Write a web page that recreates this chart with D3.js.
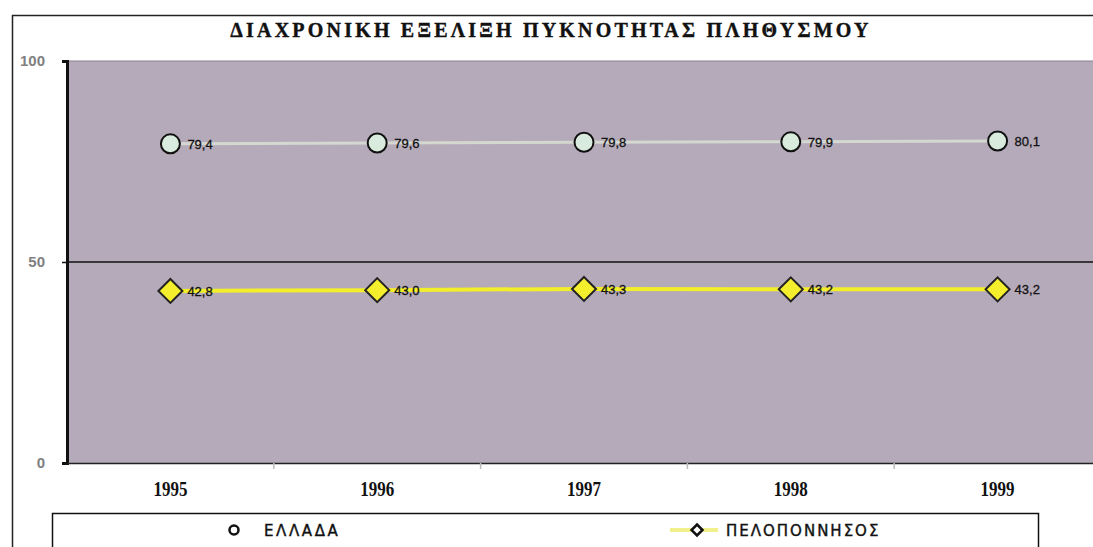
<!DOCTYPE html>
<html><head><meta charset="utf-8">
<script src="https://cdn.jsdelivr.net/npm/d3@7/dist/d3.min.js"></script>
<style>body{margin:0;background:#fff}svg{display:block}</style>
</head><body><svg id="c" width="1093" height="547"></svg>
<script>
const title = "ΔΙΑΧΡΟΝΙΚΗ ΕΞΕΛΙΞΗ ΠΥΚΝΟΤΗΤΑΣ ΠΛΗΘΥΣΜΟΥ";
const years = ["1995","1996","1997","1998","1999"];
const greece = [79.4, 79.6, 79.8, 79.9, 80.1];
const peloponnese = [42.8, 43.0, 43.3, 43.2, 43.2];
const yTicks = [0, 50, 100];
const seriesNames = ["ΕΛΛΑΔΑ", "ΠΕΛΟΠΟΝΝΗΣΟΣ"];

const svg = d3.select("#c");
const W = 1093, H = 547;
const plot = {l: 67, t: 61, r: 1101, b: 463};

// outer frame
svg.append("line").attr("x1",12).attr("x2",W).attr("y1",15.5).attr("y2",15.5).attr("stroke","#222").attr("stroke-width",1.5);
svg.append("line").attr("x1",12.5).attr("x2",12.5).attr("y1",15).attr("y2",H).attr("stroke","#222").attr("stroke-width",1.5);

// title
svg.append("text").attr("x",551).attr("y",37).attr("text-anchor","middle")
  .attr("font-family","Liberation Serif").attr("font-weight","bold").attr("font-size",20)
  .attr("letter-spacing",3.2).attr("fill","#111").attr("stroke","#111").attr("stroke-width",0.4).text(title);

const x = d3.scaleBand().domain(years).range([plot.l, plot.r]);
const y = d3.scaleLinear().domain([0,100]).range([plot.b, plot.t]);

// plot background
svg.append("rect").attr("x",plot.l).attr("y",plot.t).attr("width",W-plot.l).attr("height",plot.b-plot.t).attr("fill","#b5aab9");

// gridlines
svg.append("line").attr("x1",plot.l).attr("x2",W).attr("y1",y(100)).attr("y2",y(100)).attr("stroke","#8a8290").attr("stroke-width",1);
svg.append("line").attr("x1",plot.l).attr("x2",W).attr("y1",y(50)).attr("y2",y(50)).attr("stroke","#111").attr("stroke-width",1.5);

// y axis
const yAxis = svg.append("g").attr("transform",`translate(${plot.l},0)`)
  .call(d3.axisLeft(y).tickValues(yTicks).tickSize(5).tickFormat(d3.format("d")));
yAxis.select(".domain").attr("stroke","#111").attr("stroke-width",3);
yAxis.selectAll(".tick line").attr("stroke","#111").attr("stroke-width",1.5);
yAxis.selectAll(".tick text").attr("font-family","Liberation Sans").attr("font-weight","bold")
  .attr("font-size",15).attr("fill","#808080").attr("x",-22);

// x axis
const xAxis = svg.append("g").attr("transform",`translate(0,${plot.b})`)
  .call(d3.axisBottom(x).tickSize(0).tickPadding(19));
xAxis.select(".domain").attr("stroke","#222").attr("stroke-width",1.5);
xAxis.selectAll(".tick text").attr("font-family","Liberation Serif").attr("font-weight","bold")
  .attr("font-size",20).attr("fill","#111").attr("transform","scale(0.85,1)");
// band separator ticks
svg.append("g").selectAll("line").data(years.slice(1)).join("line")
  .attr("x1",d=>x(d)).attr("x2",d=>x(d)).attr("y1",plot.b).attr("y2",plot.b+6)
  .attr("stroke","#bbb").attr("stroke-width",1.5);

const cx = d => x(d) + x.bandwidth()/2;
const line = d3.line().x((d,i)=>cx(years[i])).y(d=>y(d));
const fmt = d => d3.format(".1f")(d).replace(".",",");

// Greece
svg.append("path").datum(greece).attr("d",line).attr("fill","none").attr("stroke","#d4d8d0").attr("stroke-width",3);
svg.append("g").selectAll("circle").data(greece).join("circle")
  .attr("cx",(d,i)=>cx(years[i])).attr("cy",d=>y(d)).attr("r",9.5)
  .attr("fill","#d9ebdc").attr("stroke","#111").attr("stroke-width",2);
svg.append("g").selectAll("text").data(greece).join("text")
  .attr("x",(d,i)=>cx(years[i])+17).attr("y",d=>y(d)+5)
  .attr("font-family","Liberation Sans").attr("font-size",13).attr("fill","#111")
  .attr("stroke","#111").attr("stroke-width",0.3)
  .text(fmt);

// Peloponnese
svg.append("path").datum(peloponnese).attr("d",line).attr("fill","none").attr("stroke","#f2ee2a").attr("stroke-width",4);
const diamond = s => `M0,${-s}L${s},0L0,${s}L${-s},0Z`;
svg.append("g").selectAll("path").data(peloponnese).join("path")
  .attr("transform",(d,i)=>`translate(${cx(years[i])},${y(d)})`).attr("d",diamond(12))
  .attr("fill","#f4ee2c").attr("stroke","#222").attr("stroke-width",2);
svg.append("g").selectAll("text").data(peloponnese).join("text")
  .attr("x",(d,i)=>cx(years[i])+17).attr("y",d=>y(d)+5)
  .attr("font-family","Liberation Sans").attr("font-size",13).attr("fill","#111")
  .attr("stroke","#111").attr("stroke-width",0.3)
  .text(fmt);

// legend
svg.append("path").attr("d",`M52.5,${H}V513.5H1038.5V${H}`).attr("fill","#fff").attr("stroke","#111").attr("stroke-width",1.5);
svg.append("circle").attr("cx",234).attr("cy",530).attr("r",4.5).attr("fill","#fff").attr("stroke","#111").attr("stroke-width",2.5);
svg.append("text").attr("x",264).attr("y",536).attr("font-family","DejaVu Sans").attr("font-size",15)
  .attr("letter-spacing",2.6).attr("fill","#111").attr("stroke","#111").attr("stroke-width",0.4).text(seriesNames[0]);
svg.append("line").attr("x1",670).attr("x2",718).attr("y1",530).attr("y2",530).attr("stroke","#f2f08a").attr("stroke-width",4);
svg.append("path").attr("transform","translate(697,530)").attr("d",diamond(5.5))
  .attr("fill","#fff").attr("stroke","#111").attr("stroke-width",2.5);
svg.append("text").attr("x",726).attr("y",536).attr("font-family","DejaVu Sans").attr("font-size",15)
  .attr("letter-spacing",2).attr("fill","#111").attr("stroke","#111").attr("stroke-width",0.4).text(seriesNames[1]);
</script></body></html>
